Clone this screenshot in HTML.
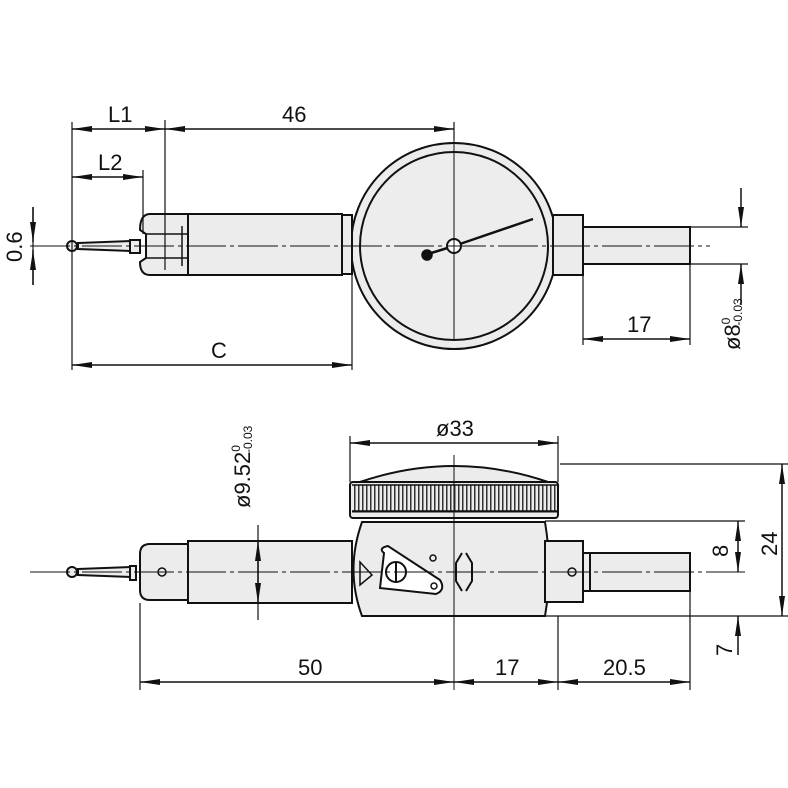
<!DOCTYPE html><html><head><style>body{margin:0;background:#fff}svg{display:block}text{font-family:"Liberation Sans",sans-serif;font-size:22px;fill:#111}</style></head><body>
<svg width="788" height="788" viewBox="0 0 788 788" xmlns="http://www.w3.org/2000/svg">
<defs><marker id="a" viewBox="0 0 20 8" refX="20" refY="4" markerWidth="20" markerHeight="8" markerUnits="userSpaceOnUse" orient="auto-start-reverse"><path d="M0,1L20,4L0,7z" fill="#111"/></marker></defs>
<g stroke="#111" stroke-width="1.5" fill="none">
<!-- TOP VIEW -->
<g fill="#ececec" stroke-width="2">
<circle cx="454" cy="246" r="103"/>
<circle cx="454" cy="246" r="94" fill="#ededed"/>
<rect x="188" y="214" width="154" height="61"/>
<rect x="342" y="215" width="10" height="59"/>
<path d="M150,214H188V275H150Q140,275 140,262V262L146,258V234L140,230Q140,214 150,214Z"/>
<rect x="553" y="215" width="30" height="60"/>
<rect x="583" y="227" width="107" height="37"/>
<path d="M78,243L130,241V251L78,249Z"/>
<rect x="130" y="240" width="10" height="13"/>
<circle cx="72" cy="246" r="5"/>
</g>
<path d="M146,234H188M146,258H188M182,226V266" />
<line x1="454" y1="246" x2="533" y2="219" stroke-width="2.5"/>
<line x1="454" y1="246" x2="428" y2="254" stroke-width="2.5"/>
<circle cx="454" cy="246" r="7" fill="#fff" stroke-width="2"/>
<circle cx="427" cy="255" r="5" fill="#111"/>
<path d="M30,246H710" stroke-width="1" stroke-dasharray="40,4,4,4"/>
<path d="M454,130V340" stroke-width="1"/>
<path d="M72,122V370M165,120V270M143,170V234M352,275V370M454,122V140M583,275V345M690,264V345M690,227H748M690,264H748M33,207V285" stroke-width="1.2"/>
<line x1="72" y1="129" x2="165" y2="129" marker-start="url(#a)" marker-end="url(#a)"/>
<line x1="165" y1="129" x2="454" y2="129" marker-start="url(#a)" marker-end="url(#a)"/>
<line x1="72" y1="177" x2="143" y2="177" marker-start="url(#a)" marker-end="url(#a)"/>
<line x1="72" y1="365" x2="352" y2="365" marker-start="url(#a)" marker-end="url(#a)"/>
<line x1="583" y1="339" x2="690" y2="339" marker-start="url(#a)" marker-end="url(#a)"/>
<line x1="741" y1="188" x2="741" y2="227" marker-end="url(#a)"/>
<line x1="741" y1="305" x2="741" y2="264" marker-end="url(#a)"/>
<line x1="33" y1="207" x2="33" y2="242" marker-end="url(#a)"/>
<line x1="33" y1="285" x2="33" y2="250" marker-end="url(#a)"/>
<!-- BOTTOM VIEW -->
<g fill="#ececec" stroke-width="2">
<path d="M360,482Q454,450 548,482Z"/>
<rect x="350" y="482" width="208" height="36" rx="3"/>
<path d="M362,522H545Q553,570 545,616H362Q345,570 362,522Z"/>
<rect x="188" y="541" width="164" height="62"/>
<path d="M150,544H188V600H150Q140,600 140,590V554Q140,544 150,544Z"/>
<rect x="545" y="541" width="38" height="61"/>
<rect x="583" y="553" width="7" height="38"/>
<rect x="590" y="553" width="100" height="38"/>
<path d="M78,569L130,567V577L78,575Z"/>
<rect x="130" y="566" width="6" height="14"/>
<circle cx="72" cy="572" r="5"/>
</g>
<path d="M352,512H558" stroke-width="1"/>
<path d="M354,498H556" stroke-width="26" stroke-dasharray="1.5,2.5" stroke="#333"/>
<path d="M352,485H558M352,511H558" stroke-width="1.5"/>
<circle cx="162" cy="572" r="4"/><circle cx="572" cy="572" r="4"/>
<path d="M384,553Q378,548 388,546L440,580Q446,590 436,594L380,588Z" fill="#fff" stroke-width="2"/>
<circle cx="396" cy="572" r="10" fill="#fff" stroke-width="2"/><path d="M396,562V582" stroke-width="2"/>
<circle cx="433" cy="558" r="3"/><circle cx="434" cy="586" r="3"/>
<path d="M360,562L372,575L360,585Z"/>
<path d="M462,553l-6,10v18l6,10M466,553l6,10v18l-6,10" stroke-width="2"/>
<path d="M30,572H745" stroke-width="1" stroke-dasharray="40,4,4,4"/>
<path d="M454,455V690" stroke-width="1"/>
<path d="M350,436V482M558,436V482M560,464H788M545,521H745M545,616H788M140,603V690M558,616V690M690,591V690M258,525V620" stroke-width="1.2"/>
<line x1="350" y1="443" x2="558" y2="443" marker-start="url(#a)" marker-end="url(#a)"/>
<line x1="140" y1="682" x2="454" y2="682" marker-start="url(#a)" marker-end="url(#a)"/>
<line x1="454" y1="682" x2="558" y2="682" marker-start="url(#a)" marker-end="url(#a)"/>
<line x1="558" y1="682" x2="690" y2="682" marker-start="url(#a)" marker-end="url(#a)"/>
<line x1="782" y1="464" x2="782" y2="616" marker-start="url(#a)" marker-end="url(#a)"/>
<line x1="258" y1="541" x2="258" y2="603" marker-start="url(#a)" marker-end="url(#a)"/>
<line x1="738" y1="521" x2="738" y2="572" marker-start="url(#a)" marker-end="url(#a)"/>
<line x1="738" y1="655" x2="738" y2="616" marker-end="url(#a)"/>
</g>
<text x="108" y="122">L1</text><text x="282" y="122">46</text><text x="98" y="170">L2</text><text x="211" y="358">C</text><text x="627" y="332">17</text>
<text transform="translate(22,262) rotate(-90)">0.6</text>
<text transform="translate(740,350) rotate(-90)">ø8<tspan font-size="12" dy="-10">0</tspan><tspan font-size="12" dx="-8" dy="12">-0.03</tspan></text>
<text x="436" y="436">ø33</text>
<text transform="translate(250,508) rotate(-90)">ø9.52<tspan font-size="12" dy="-10">0</tspan><tspan font-size="12" dx="-8" dy="12">-0.03</tspan></text>
<text x="298" y="675">50</text><text x="495" y="675">17</text><text x="603" y="675">20.5</text>
<text transform="translate(728,557) rotate(-90)">8</text>
<text transform="translate(777,556) rotate(-90)">24</text>
<text transform="translate(732,656) rotate(-90)">7</text>
</svg></body></html>
